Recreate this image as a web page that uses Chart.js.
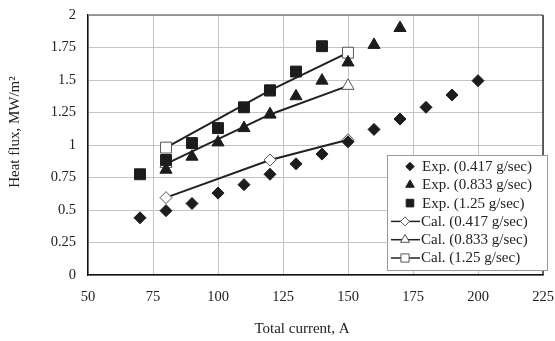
<!DOCTYPE html>
<html>
<head>
<meta charset="utf-8">
<script src="https://cdn.jsdelivr.net/npm/chart.js@4"></script>
<style>
html,body{margin:0;padding:0;background:#fff;}
canvas{display:block;}
</style>
</head>
<body>
<canvas id="c" width="555" height="341"></canvas>
<script>
const xTicks = [50, 75, 100, 125, 150, 175, 200, 225];
const yTicks = [0, 0.25, 0.5, 0.75, 1, 1.25, 1.5, 1.75, 2];

const currentExp417 = [70, 80, 90, 100, 110, 120, 130, 140, 150, 160, 170, 180, 190, 200];
const fluxExp417 = [0.44, 0.495, 0.55, 0.63, 0.695, 0.775, 0.855, 0.93, 1.025, 1.12, 1.2, 1.29, 1.385, 1.495];
const currentExp833 = [80, 90, 100, 110, 120, 130, 140, 150, 160, 170];
const fluxExp833 = [0.81, 0.91, 1.02, 1.13, 1.235, 1.375, 1.495, 1.635, 1.77, 1.9];
const currentExp125 = [70, 80, 90, 100, 110, 120, 130, 140];
const fluxExp125 = [0.775, 0.885, 1.015, 1.13, 1.29, 1.42, 1.565, 1.76];
const currentCal = [80, 120, 150];
const fluxCal417 = [0.595, 0.885, 1.04];
const fluxCal833 = [0.855, 1.235, 1.455];
const fluxCal125 = [0.98, 1.42, 1.71];

const seriesLabels = ['Exp. (0.417 g/sec)', 'Exp. (0.833 g/sec)', 'Exp. (1.25 g/sec)',
                      'Cal. (0.417 g/sec)', 'Cal. (0.833 g/sec)', 'Cal. (1.25 g/sec)'];
const xTitle = 'Total current, A';
const yTitle = 'Heat flux, MW/m\u00B2';

const FONT = "'Liberation Serif', 'DejaVu Serif', serif";
const INK = '#1c1c1c';

function pts(xs, ys) { return xs.map((x, i) => ({x: x, y: ys[i]})); }

function expSet(label, xs, ys, style, r) {
  return {label, data: pts(xs, ys), showLine: false, pointStyle: style, pointRadius: r,
    pointHoverRadius: r, backgroundColor: INK, borderColor: INK, pointBorderWidth: 1, order: 1};
}
function calSet(label, xs, ys, style, r) {
  return {label, data: pts(xs, ys), showLine: true, borderColor: '#222', borderWidth: 2,
    pointStyle: style, pointRadius: r, pointHoverRadius: r, pointBackgroundColor: '#fff',
    pointBorderColor: '#555', pointBorderWidth: 1, backgroundColor: '#fff', order: 2};
}

const datasets = [
  expSet(seriesLabels[0], currentExp417, fluxExp417, 'rectRot', 6),
  expSet(seriesLabels[1], currentExp833, fluxExp833, 'triangle', 7),
  expSet(seriesLabels[2], currentExp125, fluxExp125, 'rect', 7.7),
  calSet(seriesLabels[3], currentCal, fluxCal417, 'rectRot', 6),
  calSet(seriesLabels[4], currentCal, fluxCal833, 'triangle', 7),
  calSet(seriesLabels[5], currentCal, fluxCal125, 'rect', 7.7)
];

const framePlugin = {
  id: 'frame',
  beforeDatasetsDraw(chart) {
    const {ctx, chartArea: a} = chart;
    ctx.save();
    ctx.lineWidth = 1.5;
    ctx.strokeStyle = '#808080';
    ctx.beginPath(); ctx.moveTo(a.left, a.top); ctx.lineTo(a.right, a.top); ctx.stroke();
    ctx.strokeStyle = '#333';
    ctx.beginPath(); ctx.moveTo(a.right, a.top); ctx.lineTo(a.right, a.bottom); ctx.stroke();
    ctx.restore();
  },
  afterDraw(chart) {
    const ctx = chart.ctx;
    ctx.save();
    ctx.fillStyle = '#222';
    ctx.font = '15px ' + FONT;
    ctx.textAlign = 'center';
    ctx.textBaseline = 'middle';
    ctx.fillText(xTitle, 302, 329);
    ctx.translate(15, 132);
    ctx.rotate(-Math.PI / 2);
    ctx.fillText(yTitle, 0, 0);
    ctx.restore();

    // legend
    const box = {l: 387, t: 155, r: 547, b: 270};
    ctx.save();
    ctx.fillStyle = '#fff';
    ctx.fillRect(box.l, box.t, box.r - box.l, box.b - box.t);
    ctx.strokeStyle = '#9a9a9a';
    ctx.lineWidth = 1;
    ctx.strokeRect(box.l + 0.5, box.t + 0.5, box.r - box.l, box.b - box.t);
    ctx.font = '15px ' + FONT;
    ctx.textBaseline = 'middle';
    ctx.textAlign = 'left';
    chart.data.datasets.forEach((ds, i) => {
      const y = 166.5 + i * 18.3;
      const mx = i < 3 ? 410 : 405;
      if (ds.showLine) {
        ctx.strokeStyle = '#222';
        ctx.lineWidth = 1.5;
        ctx.beginPath(); ctx.moveTo(391, y); ctx.lineTo(420, y); ctx.stroke();
        ctx.fillStyle = '#fff';
        ctx.strokeStyle = '#555';
        ctx.lineWidth = 1;
        Chart.helpers.drawPoint(ctx, {pointStyle: ds.pointStyle, radius: ds.pointRadius * 0.75, borderWidth: 1}, mx, y);
      } else {
        ctx.fillStyle = INK;
        ctx.strokeStyle = INK;
        ctx.lineWidth = 1;
        Chart.helpers.drawPoint(ctx, {pointStyle: ds.pointStyle, radius: ds.pointRadius * 0.7, borderWidth: 1}, mx, y);
      }
      ctx.fillStyle = '#222';
      ctx.fillText(ds.label, i < 3 ? 422 : 421, y + 0.5);
    });
    ctx.restore();
  }
};

new Chart(document.getElementById('c'), {
  type: 'scatter',
  data: {datasets},
  options: {
    responsive: false,
    devicePixelRatio: 1,
    animation: false,
    events: [],
    layout: {padding: {left: 0, top: 15, right: 12, bottom: 0}},
    plugins: {legend: {display: false}, tooltip: {enabled: false}},
    scales: {
      x: {
        type: 'linear', min: 50, max: 225,
        afterBuildTicks(s) { s.ticks = xTicks.map(v => ({value: v})); },
        afterFit(s) { s.height = 66; s.paddingLeft = 0; s.paddingRight = 0; },
        grid: {color: '#c4c4c4', lineWidth: 1, drawTicks: false},
        border: {color: '#111', width: 1.5},
        ticks: {padding: 13, color: '#222', font: {family: FONT, size: 14.5}, maxRotation: 0,
                callback: v => String(v)}
      },
      y: {
        type: 'linear', min: 0, max: 2,
        afterBuildTicks(s) { s.ticks = yTicks.map(v => ({value: v})); },
        afterFit(s) { s.width = 88; s.paddingTop = 0; s.paddingBottom = 0; },
        grid: {color: '#c4c4c4', lineWidth: 1, drawTicks: false},
        border: {color: '#111', width: 1.5},
        ticks: {padding: 12, color: '#222', font: {family: FONT, size: 14.5},
                callback: v => String(v)}
      }
    }
  },
  plugins: [framePlugin]
});
</script>
</body>
</html>
